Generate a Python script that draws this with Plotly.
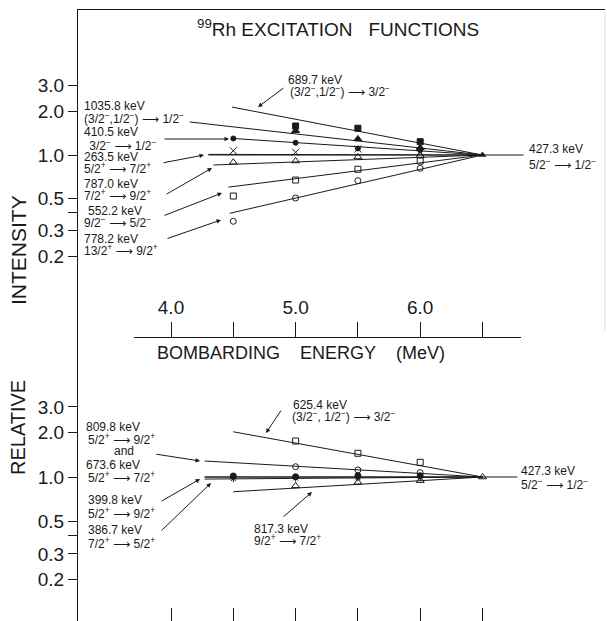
import plotly.graph_objects as go

W, H = 607, 621

# ---------------- data ----------------
E_ticks = [4.0, 4.5, 5.0, 5.5, 6.0, 6.5]
E_tick_text = ["4.0", "", "5.0", "", "6.0", ""]
I_ticks = [0.2, 0.3, 0.4, 0.5, 1.0, 2.0, 3.0]
I_tick_text = ["0.2", "0.3", "", "0.5", "1.0", "2.0", "3.0"]

E_ref, I_ref = 6.5, 1.0   # normalisation point (427.3 keV line)

# top panel series: energies, intensities, fit-line start (E, I)
top_689_E = [5.0, 5.5, 6.0];       top_689_I = [1.585, 1.53, 1.235]; top_689_fit = [4.49, 2.14]
top_1035_E = [5.0, 5.5, 6.0];      top_1035_I = [1.47, 1.29, 1.12];  top_1035_fit = [4.15, 1.69]
top_410_E = [4.5, 5.0, 5.5, 6.0];  top_410_I = [1.30, 1.216, 1.11, 1.08]; top_410_fit = [4.50, 1.30]
top_263_E = [4.5, 5.0, 5.5, 6.0];  top_263_I = [1.07, 1.044, 1.10, 1.05]; top_263_fit = [4.30, 1.01]
top_787_E = [4.5, 5.0, 5.5, 6.0];  top_787_I = [0.891, 0.909, 0.969, 0.99]; top_787_fit = [4.34, 0.853]
top_552_E = [4.5, 5.0, 5.5, 6.0];  top_552_I = [0.521, 0.672, 0.797, 0.909]; top_552_fit = [4.46, 0.60]
top_778_E = [4.5, 5.0, 5.5, 6.0];  top_778_I = [0.349, 0.505, 0.665, 0.81]; top_778_fit = [4.47, 0.396]
top_ref_line_E = [4.30, 6.83]

# bottom panel series
bot_625_E = [5.0, 5.5, 6.0];       bot_625_I = [1.757, 1.45, 1.259]; bot_625_fit = [4.50, 2.03]
bot_809_E = [5.0, 5.5, 6.0];       bot_809_I = [1.175, 1.116, 1.07]; bot_809_fit = [4.27, 1.285]
bot_399_E = [4.5, 5.0, 5.5, 6.0];  bot_399_I = [1.016, 1.005, 1.02, 1.02]; bot_399_fit = [4.27, 1.0]
bot_386_E = [4.5, 5.0, 5.5, 6.0];  bot_386_I = [0.975, 0.985, 0.99, 0.995]; bot_386_fit = [4.27, 0.968]
bot_817_E = [5.0, 5.5, 6.0];       bot_817_I = [0.87, 0.92, 0.944]; bot_817_fit = [4.50, 0.794]
bot_ref_line_E = [4.27, 6.78]

# ---------------- geometry helpers ----------------
def E_at(px):
    return 4.0 + (px - 171.0) / 124.6

def py(y):
    return 1 - y / H

FONT = "Liberation Sans, Arial, DejaVu Sans, sans-serif"
INK = "#1a1a1a"

fig = go.Figure()

def add_series(xa, ya, E, I, fit, symbol, size):
    fig.add_trace(go.Scatter(x=[fit[0], E_ref], y=[fit[1], I_ref], mode="lines",
                             line=dict(color=INK, width=1), xaxis=xa, yaxis=ya,
                             showlegend=False, hoverinfo="skip"))
    mk = dict(symbol=symbol, size=size, color=INK, line=dict(color=INK, width=1))
    fig.add_trace(go.Scatter(x=E, y=I, mode="markers", marker=mk, xaxis=xa, yaxis=ya,
                             showlegend=False))

# top panel
fig.add_trace(go.Scatter(x=top_ref_line_E, y=[I_ref, I_ref], mode="lines",
                         line=dict(color=INK, width=1), xaxis="x2", yaxis="y2",
                         showlegend=False, hoverinfo="skip"))
add_series("x2", "y2", top_689_E, top_689_I, top_689_fit, "square", 6)
add_series("x2", "y2", top_1035_E, top_1035_I, top_1035_fit, "triangle-up", 7)
add_series("x2", "y2", top_410_E, top_410_I, top_410_fit, "circle", 5)
add_series("x2", "y2", top_263_E, top_263_I, top_263_fit, "x-thin", 7)
add_series("x2", "y2", top_787_E, top_787_I, top_787_fit, "triangle-up-open", 7)
add_series("x2", "y2", top_552_E, top_552_I, top_552_fit, "square-open", 6)
add_series("x2", "y2", top_778_E, top_778_I, top_778_fit, "circle-open", 6)
fig.add_trace(go.Scatter(x=[E_ref], y=[I_ref], mode="markers",
                         marker=dict(symbol="triangle-up", size=7, color=INK),
                         xaxis="x2", yaxis="y2", showlegend=False))

# bottom panel
fig.add_trace(go.Scatter(x=bot_ref_line_E, y=[I_ref, I_ref], mode="lines",
                         line=dict(color=INK, width=1), xaxis="x", yaxis="y",
                         showlegend=False, hoverinfo="skip"))
add_series("x", "y", bot_625_E, bot_625_I, bot_625_fit, "square-open", 6)
add_series("x", "y", bot_809_E, bot_809_I, bot_809_fit, "circle-open", 6)
add_series("x", "y", bot_386_E, bot_386_I, bot_386_fit, "asterisk-open", 6)
add_series("x", "y", bot_399_E, bot_399_I, bot_399_fit, "circle", 6)
add_series("x", "y", bot_817_E, bot_817_I, bot_817_fit, "triangle-up-open", 7)
fig.add_trace(go.Scatter(x=[E_ref], y=[I_ref], mode="markers",
                         marker=dict(symbol="triangle-up-open", size=7, color=INK,
                                     line=dict(color=INK, width=1)),
                         xaxis="x", yaxis="y", showlegend=False))

# invisible trace carrying the middle energy axis
fig.add_trace(go.Scatter(x=[E_ticks[0]], y=[I_ref], mode="markers",
                         marker=dict(opacity=0), xaxis="x3", yaxis="y2",
                         showlegend=False, hoverinfo="skip"))

# ---------------- axes ----------------
xr = [E_at(78), E_at(605)]
xdom = [78 / W, 605 / W]
tick_font = dict(family=FONT, size=19, color=INK)

# bottom panel log axis: 1.0 at y=477, 147 px/decade
y_bot_range = [-(621 - 477) / 147.0, (477 - 380) / 147.0]
# top panel log axis: 1.0 at y=155, 145 px/decade
y_top_range = [-(380 - 155) / 145.0, (155 - 10) / 145.0]

fig.update_layout(
    width=W, height=H, margin=dict(l=0, r=0, t=0, b=0),
    paper_bgcolor="white", plot_bgcolor="rgba(0,0,0,0)",
    font=dict(family=FONT, color=INK),
    xaxis=dict(domain=xdom, range=xr, anchor="y", showgrid=False, zeroline=False,
               showline=False, ticks="inside", ticklen=13, tickwidth=1, tickcolor=INK,
               tickvals=E_ticks, showticklabels=False),
    yaxis=dict(domain=[0, py(380)], type="log", range=y_bot_range, anchor="x",
               showgrid=False, zeroline=False, showline=True, linecolor=INK, linewidth=1,
               ticks="outside", ticklen=9, tickwidth=1, tickcolor=INK,
               tickvals=I_ticks, ticktext=I_tick_text, tickfont=tick_font),
    xaxis2=dict(domain=xdom, range=xr, anchor="y2", side="top", showgrid=False,
                zeroline=False, showline=True, linecolor=INK, linewidth=1,
                ticks="", showticklabels=False),
    yaxis2=dict(domain=[py(380), py(10)], type="log", range=y_top_range, anchor="x2",
                showgrid=False, zeroline=False, showline=True, linecolor=INK, linewidth=1,
                ticks="outside", ticklen=9, tickwidth=1, tickcolor=INK,
                tickvals=I_ticks, ticktext=I_tick_text, tickfont=tick_font),
    xaxis3=dict(domain=[134 / W, 521 / W], range=[E_at(134), E_at(521)],
                anchor="free", position=py(337), side="top", showgrid=False,
                zeroline=False, showline=True, linecolor=INK, linewidth=1,
                ticks="outside", ticklen=15, tickwidth=1, tickcolor=INK,
                tickvals=E_ticks, ticktext=E_tick_text, tickfont=tick_font),
)

# faint right border from the scan
fig.add_shape(type="line", xref="paper", yref="paper", x0=605 / W, x1=605 / W,
              y0=py(12), y1=py(330), line=dict(color="#dcdcdc", width=1))

# ---------------- text ----------------
def txt(t, x, y, size=12, anchor="left", angle=0):
    fig.add_annotation(text=t, x=x / W, y=py(y), xref="paper", yref="paper",
                       xanchor=anchor, yanchor="middle", showarrow=False,
                       textangle=angle, font=dict(family=FONT, size=size, color=INK))

def arrow(x0, y0, x1, y1):
    fig.add_annotation(text="", x=x1 / W, y=py(y1), xref="paper", yref="paper",
                       ax=x0 - x1, ay=y0 - y1, axref="pixel", ayref="pixel",
                       showarrow=True, arrowhead=2, arrowsize=0.9, arrowwidth=1,
                       arrowcolor=INK)

M = "<sup>−</sup>"
P = "<sup>+</sup>"
AR = " ⟶ "
NB = "\u00a0"

txt("<sup>99</sup>Rh EXCITATION" + NB * 3 + "FUNCTIONS", 338, 28, size=19, anchor="center")
txt("BOMBARDING" + NB * 4 + "ENERGY" + NB * 4 + "(MeV)", 301, 353, size=18, anchor="center")
txt("INTENSITY", 18, 250, size=21, anchor="center", angle=-90)
txt("RELATIVE", 18, 428, size=20, anchor="center", angle=-90)

# top labels
txt("1035.8 keV", 82, 106)
txt("(3/2" + M + ",1/2" + M + ")" + AR + "1/2" + M, 82, 118)
txt("410.5 keV", 82, 132)
txt(NB + "3/2" + M + AR + "1/2" + M, 84, 145)
txt("263.5 keV", 82, 157)
txt("5/2" + P + AR + "7/2" + P, 82, 168)
txt("787.0 keV", 82, 184)
txt("7/2" + P + AR + "9/2" + P, 82, 195)
txt("552.2 keV", 86, 211)
txt("9/2" + M + AR + "5/2" + M, 82, 222)
txt("778.2 keV", 82, 239)
txt("13/2" + P + AR + "9/2" + P, 82, 250)
txt("689.7 keV", 286, 80)
txt("(3/2" + M + ",1/2" + M + ")" + AR + "3/2" + M, 288, 91)
txt("427.3 keV", 527, 149)
txt("5/2" + M + AR + "1/2" + M, 527, 164)

arrow(163, 139, 229, 139)
arrow(162, 163, 204, 155)
arrow(165, 195, 212, 168)
arrow(163, 216, 222, 193)
arrow(166, 239, 221, 220)
arrow(285, 87, 258, 107)

# bottom labels
txt("809.8 keV", 84, 427)
txt("5/2" + P + AR + "9/2" + P, 86, 439)
txt("and", 112, 451)
txt("673.6 keV", 84, 465)
txt("5/2" + P + AR + "7/2" + P, 86, 477)
txt("399.8 keV", 86, 500)
txt("5/2" + P + AR + "9/2" + P, 86, 513)
txt("386.7 keV", 86, 530)
txt("7/2" + P + AR + "5/2" + P, 86, 543)
txt("625.4 keV", 291, 405)
txt("(3/2" + M + ", 1/2" + M + ")" + AR + "3/2" + M, 290, 416)
txt("817.3 keV", 252, 529)
txt("9/2" + P + AR + "7/2" + P, 252, 540)
txt("427.3 keV", 519, 471)
txt("5/2" + M + AR + "1/2" + M, 519, 484)

arrow(155, 454, 200, 461)
arrow(160, 502, 200, 479)
arrow(160, 532, 211, 483)
arrow(282, 409, 266, 433)
arrow(282, 518, 312, 492)

fig.write_html("out.html", config={"displayModeBar": False},
               post_script="document.body.style.margin='0';")
